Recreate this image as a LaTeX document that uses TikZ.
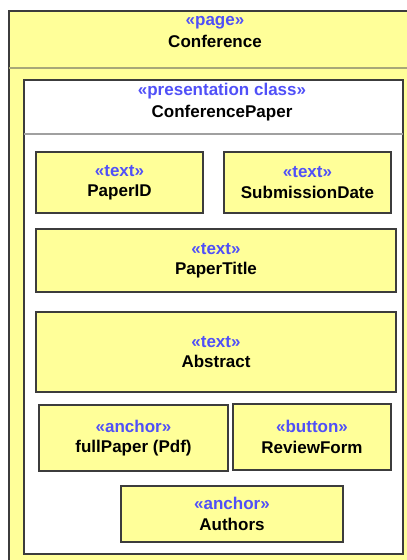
\documentclass[tikz,border=0pt]{standalone}
\usepackage{fontspec}
\setmainfont{Liberation Sans}
\usepackage{tikz}
\usetikzlibrary{positioning}
\definecolor{umlyellow}{HTML}{FFFF99}
\definecolor{stereoblue}{HTML}{5050F8}
\definecolor{edgegray}{HTML}{3C3C3C}
\definecolor{sepgray}{HTML}{A8A878}
\definecolor{clsgray}{HTML}{A0A0A0}
\newcommand{\stereo}[2]{{\color{stereoblue}«#1»}\\#2}

\begin{document}
\begin{tikzpicture}[x=1pt,y=-1pt,
  every node/.style={font=\fontsize{17}{20.5}\selectfont\bfseries},
  header/.style={align=center,font=\fontsize{17}{22.5}\selectfont\bfseries},
  frame/.style={draw=edgegray,line width=1.5pt,inner sep=0pt,outer sep=0pt},
  elem/.style={draw=edgegray,fill=umlyellow,line width=1.3pt,align=center,inner sep=0pt}]
\useasboundingbox (0,0) rectangle (407,560);
\clip (0,0) rectangle (407,560);
% page and presentation class
\node [frame,fill=umlyellow,anchor=north west,minimum width=420pt,minimum height=570pt] (page) at (9,11) {};
\node [frame,fill=white,anchor=north west,minimum width=379pt,minimum height=474pt] (paper) at (24,80) {};
\coordinate (pagesep) at (0,68);
\coordinate (papersep) at (0,134);
\draw [sepgray,line width=1.5pt] (page.west |- pagesep) -- (page.east |- pagesep);
\draw [clsgray,line width=1.2pt] (paper.west |- papersep) -- (paper.east |- papersep);
\node [header] (pagename) at (215,32) {\stereo{page}{Conference}};
\node [header] (papername) at (222,102) {\stereo{presentation class}{ConferencePaper}};
% elements
\node [elem,minimum width=167pt,minimum height=61pt] (paperid) at (119.5,182.5) {\stereo{text}{PaperID}};
\node [elem,minimum width=167pt,minimum height=61pt] (subdate) at (307.5,182.5) {\stereo{text}{SubmissionDate}};
\node [elem,minimum width=360pt,minimum height=63pt] (title) at (216,260.5) {\stereo{text}{PaperTitle}};
\node [elem,minimum width=360pt,minimum height=80pt] (abstract) at (216,352) {\stereo{text}{Abstract}};
\node [elem,minimum width=189pt,minimum height=66pt] (fullpaper) at (133.5,438) {\stereo{anchor}{fullPaper (Pdf)}};
\node [elem,minimum width=158pt,minimum height=66pt] (review) at (312,437) {\stereo{button}{ReviewForm}};
\node [elem,minimum width=222pt,minimum height=56pt] (authors) at (232,514) {\stereo{anchor}{Authors}};
\end{tikzpicture}
\end{document}
